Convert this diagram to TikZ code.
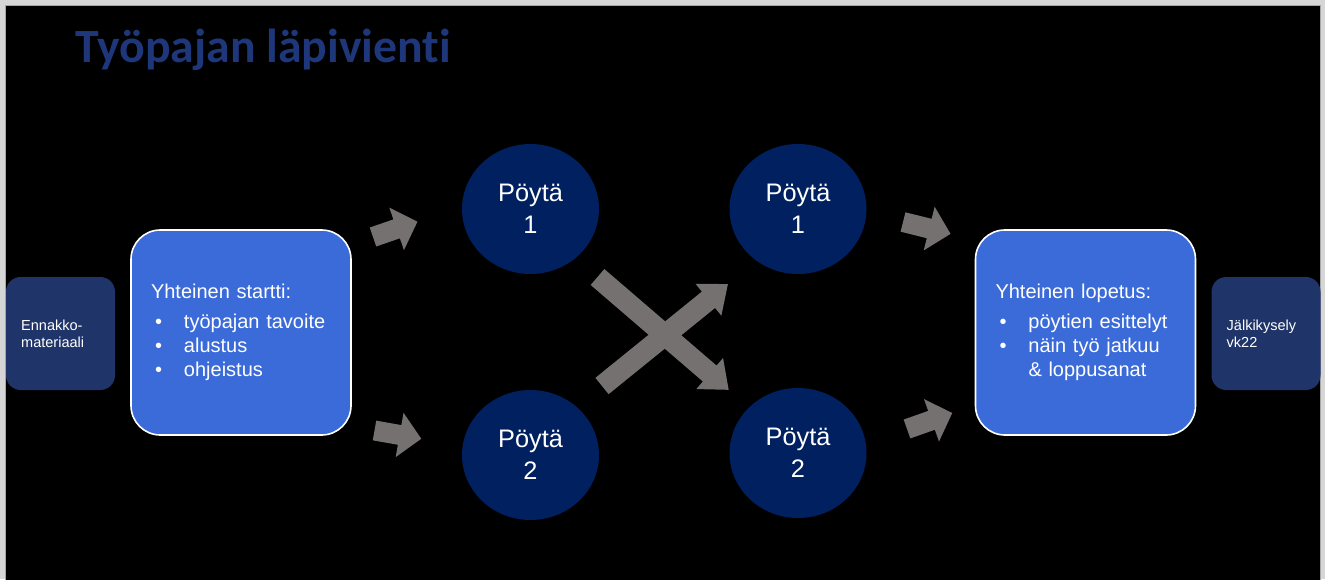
\documentclass[tikz,border=0pt]{standalone}
\usepackage{fontspec}
\setmainfont{Liberation Sans}
\newfontfamily\titlefont[Ligatures=NoCommon]{Carlito}
\usetikzlibrary{shapes.geometric}

\definecolor{framegray}{RGB}{214,214,214}
\definecolor{titleblue}{RGB}{30,54,122}
\definecolor{navybox}{RGB}{31,52,104}
\definecolor{tableblue}{RGB}{0,32,96}
\definecolor{phaseblue}{RGB}{58,107,217}
\definecolor{arrowgray}{RGB}{118,113,113}

% block arrow: tail x, tail y, angle, length, shaft width, head width, head length
\newcommand\blockarrow[7]{%
  \begin{scope}[shift={(#1,#2)}, rotate=#3]
    \fill[arrowgray] (0,{#5/2}) -- ({#4-#7},{#5/2}) -- ({#4-#7},{#6/2}) -- (#4,0)
      -- ({#4-#7},{-#6/2}) -- ({#4-#7},{-#5/2}) -- (0,{-#5/2}) -- cycle;
  \end{scope}}
\newcommand\bul{\hspace*{3pt}\makebox[21.75pt][l]{•}}
\newcommand\bulgap{\hspace*{24.75pt}}

\begin{document}
\begin{tikzpicture}[x=0.75pt,y=-0.75pt,
  phasebox/.style={draw=white, line width=1.2pt, fill=phaseblue, rounded corners=22pt,
    minimum width=165pt, minimum height=153.75pt, inner xsep=15pt,
    text width=135pt, align=left, text=white,
    execute at begin node={\vspace*{4.5pt}},
    font=\fontsize{15}{18}\selectfont},
  sidebox/.style={fill=navybox, rounded corners=11pt,
    minimum width=81.75pt, minimum height=84.75pt, inner xsep=11.25pt,
    text width=59pt, align=left, text=white,
    font=\fontsize{10.9}{12.75}\selectfont},
  tablenode/.style={ellipse, fill=tableblue, inner sep=0pt,
    minimum width=102.75pt, minimum height=97.5pt, align=center, text=white,
    font=\fontsize{19}{24}\selectfont}]
  \useasboundingbox (0,0) rectangle (1325,579);

  % slide area
  \fill[framegray] (0,0) rectangle (1325,579);
  \fill[black, draw=gray!70, line width=0.6pt] (5,5) rectangle (1320,582);

  % title
  \node[anchor=base west, inner sep=0pt, text=titleblue,
        font=\titlefont\bfseries\fontsize{35.8}{43}\selectfont] (title) at (75,62) {Työpajan läpivienti};

  % side boxes
  \node[sidebox] (pre) at (60.5,333.5) {Ennakko-\\materiaali};
  \node[sidebox] (post) at (1266,333.5) {Jälkikysely\\vk22};

  % opening and closing
  \node[phasebox] (start) at (241,332.5) {Yhteinen startti:\\
    \bul työpajan tavoite\\
    \bul alustus\\
    \bul ohjeistus};
  \node[phasebox] (end) at (1085.5,332.5) {Yhteinen lopetus:\\
    \bul pöytien esittelyt\\
    \bul näin työ jatkuu\\
    \bulgap\& loppusanat};

  % tables
  \node[tablenode] (t1a) at (530.5,209) {Pöytä\\1};
  \node[tablenode] (t2a) at (530.5,455) {Pöytä\\2};
  \node[tablenode] (t1b) at (798,209) {Pöytä\\1};
  \node[tablenode] (t2b) at (798,453) {Pöytä\\2};

  % flow arrows
  \blockarrow{373}{237}{19}{47}{20}{45}{22}
  \blockarrow{374.5}{430.5}{-10}{47.5}{20}{45}{22}
  \blockarrow{903}{222}{-14}{49}{20}{45}{22}
  \blockarrow{907}{429}{19.5}{48}{20}{45}{22}

  % crossing arrows between table rounds
  \blockarrow{597.5}{277}{-40.7}{173}{21}{41}{25}
  \blockarrow{602}{386}{39}{162}{21}{41}{25}
\end{tikzpicture}
\end{document}
